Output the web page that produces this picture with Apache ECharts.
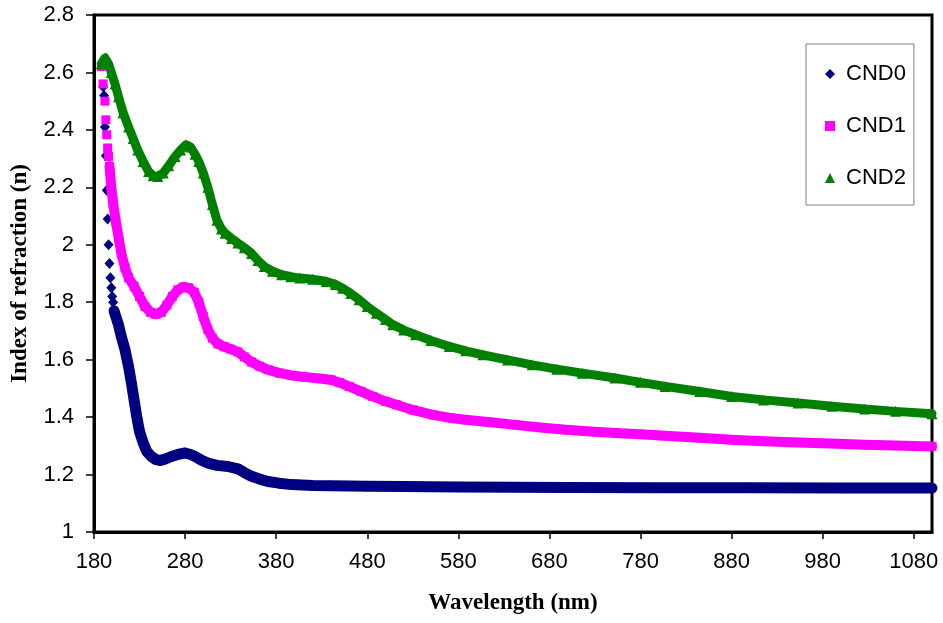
<!DOCTYPE html>
<html>
<head>
<meta charset="utf-8">
<title>Index of refraction</title>
<script src="https://cdn.jsdelivr.net/npm/echarts@6/dist/echarts.min.js"></script>
<style>
  html, body { margin: 0; padding: 0; background: #fff; }
  #chart { width: 943px; height: 623px; }
</style>
</head>
<body>
<div id="chart"></div>
<script>
// wavelength (nm) / index values
const cnd0Wl = [190, 191, 192, 193, 194, 195, 196, 197, 198, 199, 200, 201, 202,
  204, 207, 210, 214, 218, 221, 224, 227, 230, 234, 238,
  243, 248, 253, 259, 265, 272, 280, 286, 291, 298,
  305, 315, 327, 338, 345, 353, 362, 371, 383, 397,
  420, 440, 480, 520, 580, 640, 700, 800, 900, 1000, 1100];
const cnd0N = [2.55, 2.52, 2.41, 2.31, 2.19, 2.09, 2.00, 1.935, 1.885, 1.85, 1.82, 1.80, 1.77,
  1.75, 1.72, 1.68, 1.635, 1.575, 1.52, 1.46, 1.40, 1.35, 1.31, 1.28,
  1.263, 1.252, 1.249, 1.255, 1.263, 1.27, 1.275, 1.27, 1.263, 1.25,
  1.24, 1.232, 1.228, 1.22, 1.207, 1.194, 1.184, 1.176, 1.17, 1.165,
  1.162, 1.161, 1.159, 1.158, 1.157, 1.156, 1.155, 1.154, 1.154, 1.153, 1.153];

const cnd1Wl = [188, 190, 192, 193, 194, 195, 196, 197, 199, 201,
  204, 207, 210, 214, 218, 224, 230, 236, 242, 248,
  254, 260, 266, 272, 278, 284, 290, 295, 300, 305,
  310, 316, 323, 330, 338, 345, 353, 362, 371, 384,
  397, 410, 425, 440, 450, 460, 473, 486, 500, 512,
  530, 552, 570, 588, 615, 643, 670, 698, 725, 753,
  780, 807, 845, 880, 915, 953, 990, 1026, 1060, 1100];
const cnd1N = [2.62, 2.56, 2.50, 2.435, 2.383, 2.337, 2.307, 2.273, 2.20, 2.145,
  2.08, 2.025, 1.97, 1.92, 1.885, 1.855, 1.82, 1.785, 1.765, 1.758,
  1.765, 1.79, 1.82, 1.843, 1.853, 1.85, 1.835, 1.80, 1.75, 1.705,
  1.675, 1.655, 1.645, 1.637, 1.627, 1.61, 1.592, 1.577, 1.565, 1.553,
  1.545, 1.54, 1.535, 1.53, 1.52, 1.507, 1.49, 1.472, 1.455, 1.443,
  1.425, 1.408, 1.398, 1.391, 1.382, 1.373, 1.364, 1.356, 1.35, 1.345,
  1.34, 1.335, 1.328, 1.321, 1.316, 1.312, 1.308, 1.304, 1.301, 1.298];

const cnd2Wl = [188, 190, 192, 194, 196, 199, 203, 207, 212, 218,
  223, 228, 234, 240, 245, 250, 256, 262, 269, 275,
  281, 286, 291, 295, 300, 305, 310, 315, 320, 324,
  331, 338, 345, 353, 360, 367, 376, 386, 396, 406,
  420, 435, 445, 453, 462, 471, 480, 490, 500, 508,
  520, 533, 550, 570, 588, 607, 634, 661, 688, 716,
  752, 780, 807, 845, 880, 915, 953, 990, 1026, 1060, 1100];
const cnd2N = [2.63, 2.64, 2.65, 2.65, 2.63, 2.60, 2.56, 2.515, 2.46, 2.41,
  2.37, 2.33, 2.29, 2.255, 2.24, 2.238, 2.25, 2.275, 2.307, 2.33,
  2.348, 2.34, 2.315, 2.29, 2.25, 2.20, 2.14, 2.085, 2.055, 2.04,
  2.022, 2.006, 1.99, 1.97, 1.945, 1.924, 1.908, 1.896, 1.889, 1.884,
  1.88, 1.872, 1.862, 1.849, 1.83, 1.809, 1.785, 1.762, 1.74, 1.722,
  1.703, 1.687, 1.667, 1.646, 1.631, 1.617, 1.599, 1.582, 1.567, 1.553,
  1.536, 1.521, 1.507, 1.489, 1.472, 1.46, 1.449, 1.438, 1.428, 1.42, 1.412];

const xTicks = [180, 280, 380, 480, 580, 680, 780, 880, 980, 1080];

function pairs(wl, n) {
  return wl.map((w, i) => [w, n[i]]);
}

// each sample: markers for all points, a thick band where the markers run together
const groups = [
  { name: "CND0", color: "#000080", symbol: "diamond", size: [10, 11], width: 11, from: 12, data: pairs(cnd0Wl, cnd0N) },
  { name: "CND1", color: "#ff00ff", symbol: "rect", size: 9, width: 10, from: 7, data: pairs(cnd1Wl, cnd1N) },
  { name: "CND2", color: "#008000", symbol: "triangle", size: 11, width: 9, from: 0, data: pairs(cnd2Wl, cnd2N) },
];

const series = [];
groups.forEach((g, k) => {
  series.push({
    type: "scatter",
    name: g.name,
    data: g.data,
    symbol: g.symbol,
    symbolSize: g.size,
    itemStyle: { color: g.color, opacity: 1 },
    z: 3 + k * 2,
    silent: true,
  });
  series.push({
    type: "line",
    name: g.name,
    data: g.data.slice(g.from),
    showSymbol: false,
    color: g.color,
    lineStyle: { color: g.color, width: g.width, cap: "round", join: "round" },
    z: 2 + k * 2,
    silent: true,
  });
});

const chart = echarts.init(document.getElementById("chart"), null, { renderer: "canvas" });
chart.setOption({
  animation: false,
  backgroundColor: "#fff",
  grid: {
    left: 94, right: 11, top: 15, bottom: 91,
    show: true, borderColor: "#000", borderWidth: 3,
    containLabel: false, outerBoundsMode: "none",
  },
  legend: {
    orient: "vertical",
    left: 806, top: 44,
    padding: [19, 8, 16, 19],
    itemGap: 30,
    itemWidth: 10, itemHeight: 10,
    borderColor: "#808080", borderWidth: 1,
    backgroundColor: "#fff",
    selectedMode: false,
    itemStyle: { borderWidth: 0 },
    textStyle: { fontFamily: "Liberation Sans", fontSize: 22, color: "#000", padding: [0, 0, 0, 6] },
    data: [
      { name: "CND0", icon: "diamond" },
      { name: "CND1", icon: "rect" },
      { name: "CND2", icon: "triangle" },
    ],
  },
  xAxis: {
    type: "value",
    min: 180, max: 1100,
    name: "Wavelength (nm)",
    nameLocation: "middle",
    nameGap: 60,
    nameTextStyle: { fontFamily: "Liberation Serif", fontWeight: "bold", fontSize: 23, color: "#000" },
    axisLine: { lineStyle: { color: "#000", width: 3 } },
    axisTick: { length: 7, lineStyle: { color: "#000", width: 1.5 }, customValues: xTicks },
    axisLabel: {
      fontFamily: "Liberation Sans", fontSize: 22, color: "#000", margin: 19,
      customValues: xTicks, formatter: (v) => String(v),
    },
    splitLine: { show: false },
  },
  yAxis: {
    type: "value",
    min: 1, max: 2.8, interval: 0.2,
    name: "Index of refraction (n)",
    nameLocation: "middle",
    nameGap: 62,
    nameTextStyle: { fontFamily: "Liberation Serif", fontWeight: "bold", fontSize: 23, color: "#000" },
    axisLine: { show: true, lineStyle: { color: "#000", width: 3 } },
    axisTick: { show: true, length: 8, lineStyle: { color: "#000", width: 1.5 } },
    axisLabel: {
      fontFamily: "Liberation Sans", fontSize: 22, color: "#000", margin: 20,
      formatter: (v) => String(Math.round(v * 10) / 10),
    },
    splitLine: { show: false },
  },
  series: series,
});
</script>
</body>
</html>
